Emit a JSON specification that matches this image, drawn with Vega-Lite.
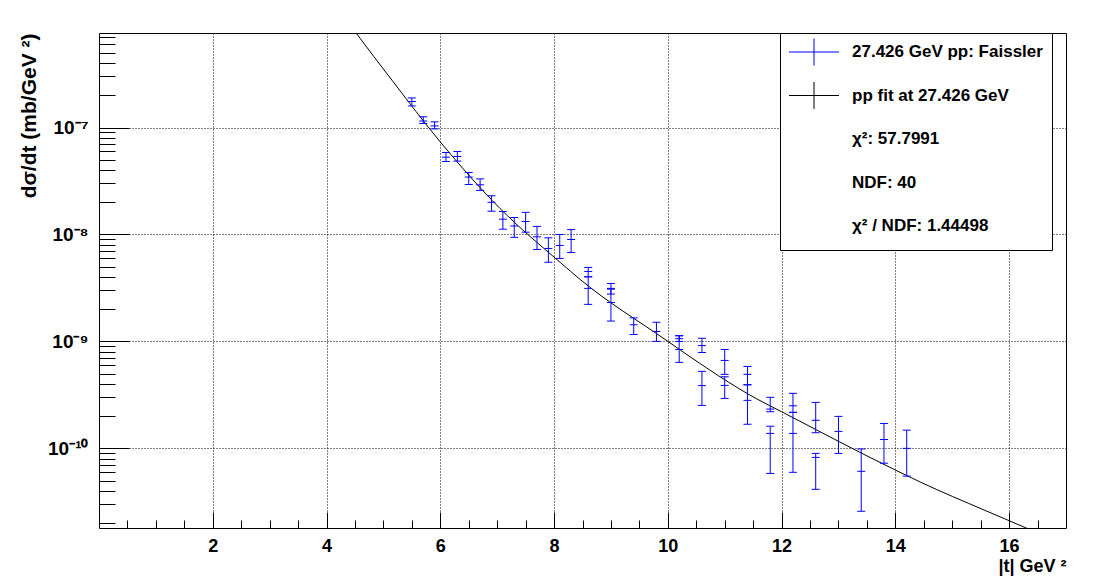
{
  "$schema": "https://vega.github.io/schema/vega-lite/v6.json",
  "width": 967,
  "height": 495,
  "autosize": {"type": "none"},
  "padding": {"left": 99, "top": 33, "right": 27, "bottom": 50},
  "background": "white",
  "config": {
    "view": {"stroke": "black", "strokeWidth": 1},
    "font": "Liberation Sans",
    "axis": {
      "domain": false,
      "labelFont": "Liberation Sans",
      "labelFontWeight": "bold",
      "labelColor": "black",
      "titleFont": "Liberation Sans",
      "titleFontWeight": "bold",
      "titleColor": "black",
      "tickColor": "black",
      "tickWidth": 1,
      "gridColor": "black",
      "gridDash": [1, 2],
      "gridWidth": 1,
      "labelOverlap": false,
      "labelFlush": false
    }
  },
  "resolve": {"axis": {"x": "independent"}},
  "datasets": {
    "pts": [
      {"t": 5.5, "val": 1.75e-7, "lo": 1.59e-7, "hi": 1.89e-7, "series": "27.426 GeV pp: Faissler"},
      {"t": 5.7, "val": 1.15e-7, "lo": 1.09e-7, "hi": 1.26e-7, "series": "27.426 GeV pp: Faissler"},
      {"t": 5.9, "val": 1.035e-7, "lo": 9.7e-8, "hi": 1.13e-7, "series": "27.426 GeV pp: Faissler"},
      {"t": 6.1, "val": 5.28e-8, "lo": 4.81e-8, "hi": 5.84e-8, "series": "27.426 GeV pp: Faissler"},
      {"t": 6.3, "val": 5.36e-8, "lo": 4.85e-8, "hi": 5.97e-8, "series": "27.426 GeV pp: Faissler"},
      {"t": 6.5, "val": 3.44e-8, "lo": 2.93e-8, "hi": 3.8e-8, "series": "27.426 GeV pp: Faissler"},
      {"t": 6.7, "val": 2.91e-8, "lo": 2.58e-8, "hi": 3.31e-8, "series": "27.426 GeV pp: Faissler"},
      {"t": 6.9, "val": 2.0e-8, "lo": 1.65e-8, "hi": 2.3e-8, "series": "27.426 GeV pp: Faissler"},
      {"t": 7.1, "val": 1.39e-8, "lo": 1.12e-8, "hi": 1.64e-8, "series": "27.426 GeV pp: Faissler"},
      {"t": 7.3, "val": 1.2e-8, "lo": 9.4e-9, "hi": 1.44e-8, "series": "27.426 GeV pp: Faissler"},
      {"t": 7.5, "val": 1.32e-8, "lo": 1.05e-8, "hi": 1.61e-8, "series": "27.426 GeV pp: Faissler"},
      {"t": 7.7, "val": 9.5e-9, "lo": 7.24e-9, "hi": 1.19e-8, "series": "27.426 GeV pp: Faissler"},
      {"t": 7.9, "val": 7.4e-9, "lo": 5.5e-9, "hi": 9.3e-9, "series": "27.426 GeV pp: Faissler"},
      {"t": 8.1, "val": 7.89e-9, "lo": 5.97e-9, "hi": 1.0e-8, "series": "27.426 GeV pp: Faissler"},
      {"t": 8.3, "val": 8.97e-9, "lo": 6.79e-9, "hi": 1.11e-8, "series": "27.426 GeV pp: Faissler"},
      {"t": 8.6, "val": 4.51e-9, "lo": 4.02e-9, "hi": 4.92e-9, "series": "27.426 GeV pp: Faissler"},
      {"t": 8.6, "val": 3.13e-9, "lo": 2.22e-9, "hi": 4.02e-9, "series": "27.426 GeV pp: Faissler"},
      {"t": 9.0, "val": 3.13e-9, "lo": 2.77e-9, "hi": 3.48e-9, "series": "27.426 GeV pp: Faissler"},
      {"t": 9.0, "val": 2.31e-9, "lo": 1.55e-9, "hi": 3.08e-9, "series": "27.426 GeV pp: Faissler"},
      {"t": 9.4, "val": 1.43e-9, "lo": 1.16e-9, "hi": 1.66e-9, "series": "27.426 GeV pp: Faissler"},
      {"t": 9.8, "val": 1.24e-9, "lo": 1.0e-9, "hi": 1.51e-9, "series": "27.426 GeV pp: Faissler"},
      {"t": 10.2, "val": 8.4e-10, "lo": 6.37e-10, "hi": 1.13e-9, "series": "27.426 GeV pp: Faissler"},
      {"t": 10.2, "val": 1.06e-9, "lo": 1.0e-9, "hi": 1.13e-9, "series": "27.426 GeV pp: Faissler"},
      {"t": 10.6, "val": 9.14e-10, "lo": 7.88e-10, "hi": 1.07e-9, "series": "27.426 GeV pp: Faissler"},
      {"t": 10.6, "val": 3.86e-10, "lo": 2.52e-10, "hi": 5.25e-10, "series": "27.426 GeV pp: Faissler"},
      {"t": 11.0, "val": 6.64e-10, "lo": 4.92e-10, "hi": 8.41e-10, "series": "27.426 GeV pp: Faissler"},
      {"t": 11.0, "val": 3.88e-10, "lo": 2.93e-10, "hi": 4.67e-10, "series": "27.426 GeV pp: Faissler"},
      {"t": 11.4, "val": 4.92e-10, "lo": 3.93e-10, "hi": 5.83e-10, "series": "27.426 GeV pp: Faissler"},
      {"t": 11.4, "val": 2.81e-10, "lo": 1.68e-10, "hi": 3.93e-10, "series": "27.426 GeV pp: Faissler"},
      {"t": 11.8, "val": 2.33e-10, "lo": 2.2e-10, "hi": 3.0e-10, "series": "27.426 GeV pp: Faissler"},
      {"t": 11.8, "val": 1.38e-10, "lo": 5.83e-11, "hi": 1.61e-10, "series": "27.426 GeV pp: Faissler"},
      {"t": 12.2, "val": 2.5e-10, "lo": 2.17e-10, "hi": 3.27e-10, "series": "27.426 GeV pp: Faissler"},
      {"t": 12.2, "val": 1.38e-10, "lo": 5.97e-11, "hi": 2.17e-10, "series": "27.426 GeV pp: Faissler"},
      {"t": 12.6, "val": 1.83e-10, "lo": 1.4e-10, "hi": 2.69e-10, "series": "27.426 GeV pp: Faissler"},
      {"t": 12.6, "val": 8.23e-11, "lo": 4.14e-11, "hi": 8.97e-11, "series": "27.426 GeV pp: Faissler"},
      {"t": 13.0, "val": 1.44e-10, "lo": 8.97e-11, "hi": 1.99e-10, "series": "27.426 GeV pp: Faissler"},
      {"t": 13.4, "val": 6.1e-11, "lo": 2.58e-11, "hi": 9.86e-11, "series": "27.426 GeV pp: Faissler"},
      {"t": 13.8, "val": 1.21e-10, "lo": 7.26e-11, "hi": 1.71e-10, "series": "27.426 GeV pp: Faissler"},
      {"t": 14.2, "val": 1.0e-10, "lo": 5.5e-11, "hi": 1.48e-10, "series": "27.426 GeV pp: Faissler"}
    ],
    "fit": [
      {"t": 4.4, "dsdt": 9.33e-7, "series": "pp fit at 27.426 GeV"},
      {"t": 4.52, "dsdt": 7.65e-7, "series": "pp fit at 27.426 GeV"},
      {"t": 5.15, "dsdt": 2.77e-7, "series": "pp fit at 27.426 GeV"},
      {"t": 6.0, "dsdt": 7.33e-8, "series": "pp fit at 27.426 GeV"},
      {"t": 7.05, "dsdt": 1.75e-8, "series": "pp fit at 27.426 GeV"},
      {"t": 8.11, "dsdt": 5.47e-9, "series": "pp fit at 27.426 GeV"},
      {"t": 8.46, "dsdt": 3.79e-9, "series": "pp fit at 27.426 GeV"},
      {"t": 9.99, "dsdt": 1.01e-9, "series": "pp fit at 27.426 GeV"},
      {"t": 10.22, "dsdt": 8.3e-10, "series": "pp fit at 27.426 GeV"},
      {"t": 11.57, "dsdt": 2.89e-10, "series": "pp fit at 27.426 GeV"},
      {"t": 12.0, "dsdt": 2.2e-10, "series": "pp fit at 27.426 GeV"},
      {"t": 14.0, "dsdt": 6.27e-11, "series": "pp fit at 27.426 GeV"},
      {"t": 14.45, "dsdt": 4.81e-11, "series": "pp fit at 27.426 GeV"},
      {"t": 15.56, "dsdt": 2.65e-11, "series": "pp fit at 27.426 GeV"},
      {"t": 16.3, "dsdt": 1.8e-11, "series": "pp fit at 27.426 GeV"},
      {"t": 16.45, "dsdt": 1.66e-11, "series": "pp fit at 27.426 GeV"}
    ]
  },
  "layer": [
    {
      "data": {"name": "fit"},
      "mark": {"type": "line", "strokeWidth": 1, "interpolate": "monotone", "clip": true},
      "encoding": {
        "x": {
          "field": "t",
          "type": "quantitative",
          "scale": {"domain": [0, 17], "nice": false, "zero": false},
          "axis": {
            "orient": "bottom",
            "title": "|t| GeV ²",
            "titleFontSize": 18,
            "titleAnchor": "end",
            "titleAlign": "right",
            "titlePadding": 2,
            "values": [2, 4, 6, 8, 10, 12, 14, 16],
            "format": "d",
            "labelFontSize": 18,
            "labelPadding": 25,
            "grid": true,
            "tickSize": -16
          }
        },
        "y": {
          "field": "dsdt",
          "type": "quantitative",
          "scale": {"type": "log", "domain": [1.8e-11, 7.65e-7], "nice": false},
          "axis": {
            "title": "dσ/dt (mb/GeV ²)",
            "titleFontSize": 21,
            "titleAnchor": "end",
            "titlePadding": 8,
            "values": [2e-11, 3e-11, 4e-11, 5e-11, 6e-11, 7e-11, 8e-11, 9e-11, 1e-10, 2e-10, 3e-10, 4e-10, 5e-10, 6e-10, 7e-10, 8e-10, 9e-10, 1e-9, 2e-9, 3e-9, 4e-9, 5e-9, 6e-9, 7e-9, 8e-9, 9e-9, 1e-8, 2e-8, 3e-8, 4e-8, 5e-8, 6e-8, 7e-8, 8e-8, 9e-8, 1e-7, 2e-7, 3e-7, 4e-7, 5e-7, 6e-7, 7e-7],
            "labelExpr": "abs(log(datum.value)/LN10 - round(log(datum.value)/LN10)) < 0.001 ? '10' + (round(log(datum.value)/LN10) == -7 ? '⁻⁷' : round(log(datum.value)/LN10) == -8 ? '⁻⁸' : round(log(datum.value)/LN10) == -9 ? '⁻⁹' : '⁻¹⁰') : ''",
            "labelFontSize": 19,
            "labelPadding": 41,
            "labelBaseline": "middle",
            "grid": true,
            "gridOpacity": {"condition": {"test": "abs(log(datum.value)/LN10 - round(log(datum.value)/LN10)) < 0.001", "value": 1}, "value": 0},
            "tickSize": {"condition": {"test": "abs(log(datum.value)/LN10 - round(log(datum.value)/LN10)) < 0.001", "value": -30}, "value": -16}
          }
        },
        "color": {
          "field": "series",
          "type": "nominal",
          "scale": {
            "domain": ["27.426 GeV pp: Faissler", "pp fit at 27.426 GeV", "χ²: 57.7991", "NDF: 40", "χ² / NDF: 1.44498"],
            "range": ["#0000ff", "#000000", "transparent", "transparent", "transparent"]
          },
          "legend": {
            "orient": "none",
            "legendX": 681,
            "legendY": 0,
            "title": null,
            "fillColor": "white",
            "strokeColor": "black",
            "padding": 8.5,
            "cornerRadius": 0,
            "symbolType": "M-2.5,0H2.5M0,-1.35V1.35",
            "symbolSize": 400,
            "symbolStrokeWidth": 1,
            "symbolFillColor": "transparent",
            "symbolOffset": 15,
            "labelOffset": 27.5,
            "rowPadding": 12.5,
            "labelFont": "Liberation Sans",
            "labelFontWeight": "bold",
            "labelFontSize": 17,
            "labelColor": "black",
            "labelLimit": 400
          }
        }
      }
    },
    {
      "data": {"name": "pts"},
      "mark": {"type": "rule", "strokeWidth": 1},
      "encoding": {
        "x": {
          "field": "t",
          "type": "quantitative",
          "axis": {
            "orient": "bottom",
            "title": null,
            "values": [0.5, 1, 1.5, 2.5, 3, 3.5, 4.5, 5, 5.5, 6.5, 7, 7.5, 8.5, 9, 9.5, 10.5, 11, 11.5, 12.5, 13, 13.5, 14.5, 15, 15.5, 16.5],
            "labels": false,
            "grid": false,
            "tickSize": -8
          }
        },
        "y": {"field": "lo", "type": "quantitative"},
        "y2": {"field": "hi"},
        "color": {"field": "series", "type": "nominal"}
      }
    },
    {
      "data": {"name": "pts"},
      "transform": [{"fold": ["lo", "val", "hi"], "as": ["kind", "v"]}],
      "mark": {"type": "point", "shape": "M-1,0H1", "size": 64, "filled": false, "strokeWidth": 1, "opacity": 1},
      "encoding": {
        "x": {"field": "t", "type": "quantitative", "axis": null},
        "y": {"field": "v", "type": "quantitative"},
        "color": {"field": "series", "type": "nominal"}
      }
    }
  ]
}
